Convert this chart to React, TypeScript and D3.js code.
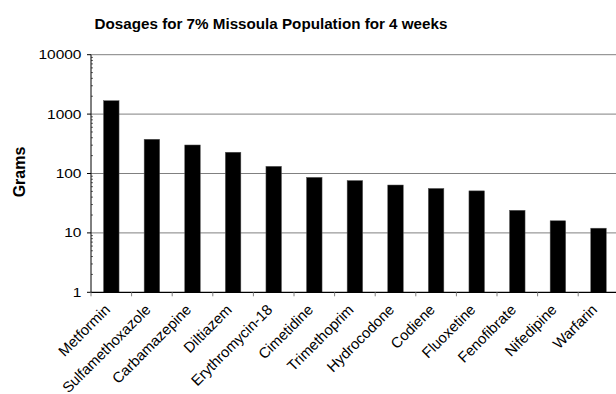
import React from "react";
import * as d3 from "d3";

const drugs = [
  "Metformin",
  "Sulfamethoxazole",
  "Carbamazepine",
  "Diltiazem",
  "Erythromycin-18",
  "Cimetidine",
  "Trimethoprim",
  "Hydrocodone",
  "Codiene",
  "Fluoxetine",
  "Fenofibrate",
  "Nifedipine",
  "Warfarin",
];
const grams = [1680, 377, 302, 228, 132, 86, 76, 64, 56, 51, 24, 16, 12];
const yTicks = [1, 10, 100, 1000, 10000];
const yTickLabels = ["1", "10", "100", "1000", "10000"];

const W = 616;
const H = 394;
const left = 91;
const right = 618.8;
const top = 54.7;
const bottom = 292.3;
const font = "Arial, 'Liberation Sans', Helvetica, sans-serif";
// tick digits are drawn a little wider than the regular face
const wide = 1.24;

export default function App() {
  const x = d3.scaleBand<string>().domain(drugs).range([left, right]).padding(0);
  const y = d3.scaleLog().domain([1, 10000]).range([bottom, top]);
  const barW = 15.5;

  // minor log ticks (2..9 within each decade)
  const minor: number[] = [];
  for (let d = 1; d < 10000; d *= 10) {
    for (let k = 2; k <= 9; k++) minor.push(d * k);
  }

  return (
    <svg
      width={W}
      height={H}
      style={{ position: "absolute", left: 0, top: 0, background: "#fff" }}
      fontFamily={font}
    >
      <text
        x={271}
        y={28.5}
        textAnchor="middle"
        fontSize={15.2}
        fontWeight="bold"
        fill="#000"
      >
        Dosages for 7% Missoula Population for 4 weeks
      </text>

      {/* gridlines */}
      {yTicks.slice(1).map((t) => (
        <line
          key={"g" + t}
          x1={left}
          x2={W}
          y1={y(t)}
          y2={y(t)}
          stroke="#808080"
          strokeWidth={1}
        />
      ))}

      {/* bars */}
      {drugs.map((d, i) => (
        <rect
          key={d}
          x={(x(d) as number) + x.bandwidth() / 2 - barW / 2}
          y={y(grams[i])}
          width={barW}
          height={bottom - y(grams[i])}
          fill="#000"
          stroke="#555"
          strokeWidth={0.5}
        />
      ))}

      {/* y axis */}
      <line x1={left} x2={left} y1={top} y2={bottom} stroke="#000" strokeWidth={1} />
      {yTicks.map((t, i) => (
        <g key={"yt" + t}>
          <line x1={left - 4} x2={left} y1={y(t)} y2={y(t)} stroke="#000" />
          <text
            transform={`translate(81.5,${y(t)}) scale(${wide},1)`}
            dy="0.36em"
            textAnchor="end"
            fontSize={12.5}
            fill="#000"
          >
            {yTickLabels[i]}
          </text>
        </g>
      ))}
      {minor.map((m) => (
        <line
          key={"m" + m}
          x1={left}
          x2={left + 2}
          y1={y(m)}
          y2={y(m)}
          stroke="#000"
          strokeWidth={0.6}
        />
      ))}

      <text
        transform={`translate(25,172) rotate(-90)`}
        textAnchor="middle"
        fontSize={16}
        fontWeight="bold"
        fill="#000"
      >
        Grams
      </text>

      {/* x axis */}
      <line x1={left} x2={W} y1={bottom} y2={bottom} stroke="#000" strokeWidth={1.2} />
      {drugs.map((d) => (
        <line
          key={"xt" + d}
          x1={x(d) as number}
          x2={x(d) as number}
          y1={bottom}
          y2={bottom + 4}
          stroke="#808080"
        />
      ))}
      {drugs.map((d) => {
        const cx = (x(d) as number) + x.bandwidth() / 2;
        return (
          <text
            key={"xl" + d}
            transform={`translate(${cx - 4},307) rotate(-45)`}
            textAnchor="end"
            dy="0.35em"
            fontSize={14.8}
            fill="#000"
          >
            {d}
          </text>
        );
      })}
    </svg>
  );
}
